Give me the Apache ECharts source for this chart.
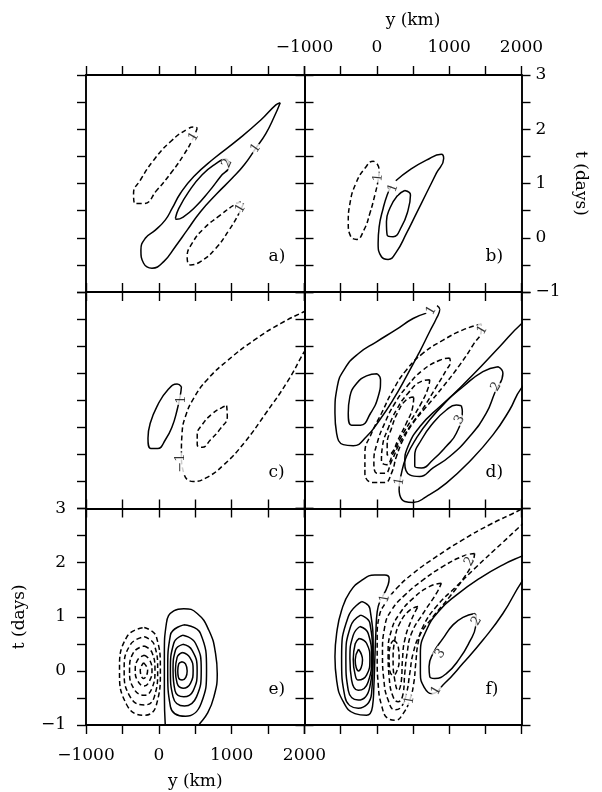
<!DOCTYPE html>
<html><head><meta charset="utf-8">
<script src="https://cdn.jsdelivr.net/npm/echarts@6/dist/echarts.min.js"></script>
<style>html,body{margin:0;padding:0;background:#fff}#c{width:602px;height:792px}</style>
</head><body><div id="c"></div>
<script>
// ---- tick labels ----
const Y_TICK_LABELS = [-1000, 0, 1000, 2000];
const T_TICK_LABELS = [-1, 0, 1, 2, 3];
const PANEL_NAMES = ['a)', 'b)', 'c)', 'd)', 'e)', 'f)'];

// ---- panel a : contours [y km, t days] ----
const a_p1 = [[1667,2.49],[1584,2.23],[1469,1.92],[1331,1.65],[1170,1.34],[1009,1.10],[802,0.82],[572,0.48],[389,0.14],[228,-0.16],[67,-0.44],[-94,-0.56],[-209,-0.47],[-246,-0.23],[-186,-0.01],[-48,0.14],[90,0.33],[182,0.54],[297,0.82],[480,1.13],[756,1.46],[1078,1.80],[1400,2.17],[1607,2.45],[1667,2.49]];
const a_p2 = [[228,0.36],[274,0.54],[411,0.85],[595,1.16],[779,1.36],[917,1.45],[963,1.32],[848,1.13],[687,0.85],[503,0.57],[343,0.39],[241,0.34],[228,0.36]];
const a_n1 = [[527,2.02],[458,1.80],[343,1.53],[182,1.22],[-25,0.88],[-209,0.63],[-324,0.63],[-347,0.82],[-255,1.06],[-71,1.43],[159,1.77],[389,2.00],[503,2.04],[527,2.02]];
const a_n2 = [[1161,0.63],[1101,0.45],[963,0.14],[779,-0.20],[572,-0.44],[435,-0.50],[389,-0.35],[458,-0.10],[618,0.17],[848,0.42],[1055,0.62],[1147,0.66],[1161,0.63]];
const a_lab = [[480,1.86,'1'],[940,1.37,'2'],[1331,1.65,'1'],[1124,0.54,'1']];

// ---- panel b ----
const b_n1 = [[5,1.36],[32,1.25],[18,1.06],[-27,0.79],[-96,0.45],[-179,0.14],[-280,-0.03],[-363,0.03],[-395,0.27],[-372,0.63],[-290,1.00],[-165,1.28],[-50,1.41],[5,1.36]];
const b_p1 = [[262,1.05],[455,1.25],[685,1.43],[892,1.54],[924,1.46],[823,1.19],[685,0.82],[547,0.45],[409,0.08],[271,-0.26],[156,-0.40],[64,-0.35],[18,-0.10],[32,0.20],[87,0.54],[143,0.79],[200,0.95]];
const b_p2 = [[386,0.87],[465,0.79],[432,0.51],[340,0.20],[225,0.02],[143,0.05],[133,0.30],[179,0.54],[281,0.77],[386,0.87]];
const b_lab = [[20,1.11,'1'],[228,0.92,'1']];

// ---- panel c ----
const c_p1 = [[310,1.25],[296,1.10],[251,0.82],[182,0.51],[90,0.27],[-16,0.11],[-108,0.11],[-149,0.30],[-117,0.58],[-16,0.91],[122,1.19],[251,1.30],[310,1.25]];
const c_n1 = [[2320,2.85],[1998,2.64],[1676,2.42],[1308,2.11],[940,1.73],[664,1.38],[480,1.04],[365,0.70],[319,0.39],[310,0.02],[343,-0.35],[471,-0.50],[641,-0.44],[894,-0.19],[1170,0.21],[1469,0.76],[1768,1.35],[1998,1.90],[2228,2.42]];
const c_n2 = [[931,0.90],[940,0.70],[848,0.48],[710,0.27],[596,0.13],[527,0.18],[527,0.36],[596,0.55],[733,0.75],[871,0.87],[931,0.90]];
const c_lab = [[319,1.01,'1'],[296,-0.16,'−1']];

// ---- panel d ----
const d_p1 = [[685,2.61],[501,2.51],[271,2.31],[-5,2.08],[-257,1.86],[-441,1.59],[-547,1.25],[-579,0.76],[-556,0.39],[-464,0.18],[-326,0.16],[-142,0.33],[41,0.64],[225,1.01],[409,1.44],[593,1.90],[731,2.27],[823,2.51],[869,2.68],[832,2.75]];
const d_p2 = [[5,1.49],[51,1.38],[19,1.07],[-87,0.76],[-225,0.54],[-349,0.54],[-395,0.76],[-372,1.07],[-280,1.31],[-142,1.45],[5,1.49]];
const d_p3 = [[2400,2.85],[1996,2.41],[1697,1.99],[1329,1.47],[1007,1.04],[731,0.64],[547,0.30],[409,-0.04],[340,-0.35],[308,-0.65],[317,-0.75],[386,-0.87],[501,-0.89],[685,-0.78],[961,-0.53],[1283,-0.13],[1605,0.36],[1835,0.82],[1996,1.22],[2300,1.65]];
const d_p4 = [[1674,1.62],[1743,1.50],[1628,1.13],[1513,0.76],[1283,0.33],[1007,-0.04],[777,-0.25],[593,-0.41],[455,-0.38],[386,-0.16],[432,0.15],[593,0.51],[869,0.88],[1191,1.25],[1467,1.53],[1674,1.62]];
const d_p5 = [[1168,0.90],[1182,0.79],[1099,0.39],[961,0.15],[777,-0.10],[616,-0.25],[524,-0.22],[524,-0.04],[616,0.27],[777,0.58],[961,0.82],[1099,0.91],[1168,0.90]];
const d_n1 = [[1444,2.41],[1191,2.30],[915,2.11],[639,1.87],[409,1.56],[225,1.19],[65,0.76],[-73,0.39],[-165,0.02],[-165,-0.35],[-50,-0.52],[110,-0.52],[202,-0.35],[271,-0.04],[363,0.27],[501,0.58],[685,0.88],[915,1.25],[1145,1.65],[1329,2.02],[1444,2.30],[1444,2.41]];
const d_n2 = [[1007,1.78],[869,1.74],[639,1.56],[432,1.28],[248,0.94],[110,0.58],[5,0.21],[-41,-0.13],[5,-0.35],[110,-0.35],[202,-0.13],[317,0.21],[455,0.51],[639,0.85],[823,1.25],[961,1.56],[1016,1.71],[1007,1.78]];
const d_n3 = [[731,1.38],[616,1.35],[432,1.13],[271,0.82],[156,0.48],[78,0.15],[64,-0.13],[133,-0.19],[225,0.02],[340,0.33],[478,0.64],[616,0.95],[708,1.22],[731,1.38]];
const d_n4 = [[510,1.06],[409,1.01],[294,0.79],[202,0.48],[143,0.18],[143,-0.01],[202,0.02],[294,0.27],[409,0.58],[492,0.85],[510,1.06]];
const d_lab = [[754,2.66,'1'],[1458,2.30,'1'],[1651,1.25,'2'],[1145,0.64,'3'],[317,-0.50,'1']];

// ---- panel e ----
const e_p1 = [[95,-1.15],[76,-0.42],[76,0.32],[104,0.88],[205,1.11],[343,1.15],[527,1.06],[687,0.75],[779,0.32],[802,-0.05],[756,-0.48],[664,-0.79],[549,-1.0],[481,-1.16]];
const e_p2 = [[342,0.85],[572,0.69],[655,0.01],[582,-0.60],[366,-0.84],[159,-0.66],[122,0.01],[159,0.66],[342,0.85]];
const e_p3 = [[333,0.66],[503,0.51],[582,0.01],[517,-0.48],[352,-0.65],[195,-0.48],[159,0.01],[205,0.51],[333,0.66]];
const e_p4 = [[329,0.49],[457,0.38],[526,0.01],[471,-0.37],[343,-0.48],[223,-0.37],[195,0.01],[228,0.38],[329,0.49]];
const e_p5 = [[324,0.34],[425,0.25],[471,0.01],[434,-0.23],[333,-0.32],[251,-0.23],[228,0.01],[251,0.25],[324,0.34]];
const e_p6 = [[319,0.17],[366,0.13],[389,0.0],[370,-0.12],[319,-0.17],[269,-0.12],[260,0.0],[274,0.13],[319,0.17]];
const e_n1 = [[-200,0.80],[-34,0.63],[21,0.01],[-34,-0.63],[-200,-0.82],[-439,-0.63],[-540,0.01],[-439,0.63],[-200,0.80]];
const e_n2 = [[-200,0.63],[-62,0.48],[-16,0.01],[-62,-0.48],[-200,-0.63],[-393,-0.48],[-476,0.01],[-393,0.48],[-200,0.63]];
const e_n3 = [[-200,0.46],[-94,0.34],[-53,0.01],[-94,-0.32],[-200,-0.45],[-347,-0.32],[-402,0.01],[-347,0.34],[-200,0.46]];
const e_n4 = [[-200,0.29],[-126,0.20],[-94,0.01],[-126,-0.18],[-200,-0.28],[-292,-0.18],[-324,0.01],[-292,0.20],[-200,0.29]];
const e_n5 = [[-209,0.15],[-154,0.01],[-209,-0.14],[-255,0.01],[-209,0.15]];
const e_lab = [];

// ---- panel f ----
const f_p1 = [[78,1.37],[156,1.59],[170,1.71],[110,1.77],[-28,1.77],[-211,1.67],[-372,1.46],[-487,1.12],[-556,0.69],[-579,0.26],[-556,-0.17],[-464,-0.57],[-303,-0.79],[-142,-0.82],[-60,-0.66],[-41,-0.29],[-28,0.20],[-14,0.69],[5,1.09],[41,1.28]];
const f_p2 = [[-211,1.28],[-96,1.15],[-50,0.32],[-73,-0.42],[-257,-0.69],[-441,-0.48],[-487,0.23],[-395,1.00],[-211,1.28]];
const f_p3 = [[-225,1.03],[-96,0.88],[-60,0.26],[-96,-0.29],[-257,-0.54],[-395,-0.36],[-428,0.23],[-363,0.82],[-225,1.03]];
const f_p4 = [[-234,0.82],[-119,0.69],[-73,0.23],[-119,-0.20],[-257,-0.36],[-349,-0.17],[-372,0.23],[-326,0.66],[-234,0.82]];
const f_p5 = [[-244,0.60],[-142,0.51],[-96,0.21],[-142,-0.08],[-257,-0.17],[-303,-0.05],[-326,0.21],[-299,0.50],[-244,0.60]];
const f_p6 = [[-253,0.40],[-198,0.20],[-253,0.00],[-299,0.20],[-253,0.40]];
const f_p7 = [[2294,2.29],[2005,2.12],[1743,1.96],[1421,1.71],[1099,1.40],[869,1.12],[685,0.75],[602,0.32],[602,-0.05],[662,-0.32],[754,-0.42],[938,-0.23],[1191,0.14],[1467,0.57],[1743,1.06],[2005,1.65],[2294,2.17]];
const f_p8 = [[1352,1.06],[1191,0.99],[1053,0.85],[915,0.60],[777,0.32],[722,0.08],[731,-0.10],[800,-0.14],[961,-0.05],[1145,0.23],[1283,0.54],[1366,0.82],[1375,1.00],[1352,1.06]];
const f_n1 = [[2478,3.34],[1973,2.97],[1559,2.70],[1186,2.42],[823,2.11],[501,1.80],[271,1.52],[133,1.28],[32,1.00],[5,0.63],[5,0.20],[18,-0.23],[64,-0.63],[156,-0.88],[262,-0.91],[363,-0.79],[455,-0.54],[510,-0.23],[538,0.14],[570,0.51],[639,0.82],[823,1.19],[1099,1.56],[1375,1.92],[1738,2.37],[2005,2.70],[2294,3.03]];
const f_n2 = [[1352,2.17],[1191,2.12],[915,1.93],[639,1.68],[386,1.40],[202,1.12],[110,0.82],[78,0.32],[97,-0.17],[156,-0.54],[248,-0.72],[340,-0.66],[409,-0.42],[455,-0.05],[501,0.32],[593,0.66],[777,1.00],[1007,1.37],[1214,1.74],[1320,1.99],[1352,2.17]];
const f_n3 = [[892,1.62],[731,1.56],[501,1.34],[317,1.06],[202,0.75],[156,0.32],[170,-0.11],[225,-0.48],[294,-0.57],[363,-0.42],[386,-0.05],[418,0.32],[478,0.69],[639,1.06],[823,1.43],[892,1.62]];
const f_n4 = [[570,1.19],[455,1.12],[317,0.88],[248,0.57],[225,0.20],[248,-0.17],[294,-0.36],[340,-0.17],[354,0.20],[386,0.57],[478,0.94],[570,1.19]];
const f_n5 = [[235,0.57],[294,0.46],[308,0.20],[271,-0.02],[225,-0.08],[179,0.01],[170,0.26],[189,0.48],[235,0.57]];
const f_lab = [[110,1.34,'1'],[1283,2.02,'2'],[1380,0.92,'2'],[878,0.32,'3'],[823,-0.36,'1'],[455,-0.54,'1']];

// ---- assemble ----
const PANELS = [
  {pos:[a_p1,a_p2], neg:[a_n1,a_n2], lab:a_lab, rot:[60,65,55,60]},
  {pos:[b_p1,b_p2], neg:[b_n1], lab:b_lab, rot:[85,70]},
  {pos:[c_p1], neg:[c_n1,c_n2], lab:c_lab, rot:[90,90]},
  {pos:[d_p1,d_p2,d_p3,d_p4,d_p5], neg:[d_n1,d_n2,d_n3,d_n4], lab:d_lab, rot:[60,60,60,60,80]},
  {pos:[e_p1,e_p2,e_p3,e_p4,e_p5,e_p6], neg:[e_n1,e_n2,e_n3,e_n4,e_n5], lab:e_lab, rot:[]},
  {pos:[f_p1,f_p2,f_p3,f_p4,f_p5,f_p6,f_p7,f_p8], neg:[f_n1,f_n2,f_n3,f_n4,f_n5], lab:f_lab, rot:[80,60,60,55,60,80]}
];

const FONT = 'DejaVu Serif';
const fmt = v => v < 0 ? '\u2212' + Math.abs(v) : String(v);
const COLX = [86, 304.5], COLW = [218.5, 217];
const ROWY = [75, 292, 508.5], ROWH = [217, 216.5, 216.5];

const grids = [], xAxes = [], yAxes = [], series = [], graphics = [];
PANELS.forEach((p, g) => {
  const col = g % 2, row = Math.floor(g / 2);
  grids.push({left: COLX[col], top: ROWY[row], width: COLW[col], height: ROWH[row], containLabel: false, outerBoundsMode: 'none'});
  ['bottom', 'top'].forEach(pos => {
    const lab = (g === 4 && pos === 'bottom') || (g === 1 && pos === 'top');
    xAxes.push({type: 'value', gridIndex: g, position: pos, min: -1000, max: 2000, interval: 500,
      axisLine: {show: true, onZero: false, lineStyle: {color: '#000', width: 1.9}},
      axisTick: {show: true, inside: false, length: 9, lineStyle: {color: '#000', width: 1.4}},
      splitLine: {show: false},
      axisLabel: {show: lab, interval: 0, showMinLabel: true, showMaxLabel: true, hideOverlap: false, margin: pos === 'bottom' ? 22 : 19,
        formatter: v => Y_TICK_LABELS.includes(v) ? fmt(v) : '', color: '#000', fontFamily: FONT, fontSize: 17},
      name: lab ? 'y (km)' : '', nameLocation: 'middle', nameGap: pos === 'bottom' ? 48 : 46,
      nameTextStyle: {color: '#000', fontFamily: FONT, fontSize: 17}
    });
  });
  ['left', 'right'].forEach(pos => {
    const lab = (g === 4 && pos === 'left') || (g === 1 && pos === 'right');
    yAxes.push({type: 'value', gridIndex: g, position: pos, min: -1, max: 3, interval: 0.5,
      axisLine: {show: true, onZero: false, lineStyle: {color: '#000', width: 1.9}},
      axisTick: {show: true, inside: false, length: 9, lineStyle: {color: '#000', width: 1.4}},
      splitLine: {show: false},
      axisLabel: {show: lab, interval: 0, showMinLabel: true, showMaxLabel: true, hideOverlap: false, margin: pos === 'left' ? 20 : 14,
        formatter: v => T_TICK_LABELS.includes(v) ? fmt(v) : '', color: '#000', fontFamily: FONT, fontSize: 17},
      name: lab ? 't (days)' : '', nameLocation: 'middle', nameGap: pos === 'left' ? 58 : 50,
      nameRotate: pos === 'left' ? 90 : -90,
      nameTextStyle: {color: '#000', fontFamily: FONT, fontSize: 17}
    });
  });
  const mk = (data, dashed) => ({type: 'line', xAxisIndex: 2 * g, yAxisIndex: 2 * g, data: data, smooth: 0.5,
    showSymbol: false, symbol: 'none', silent: true, animation: false, clip: true,
    lineStyle: {color: '#000', width: 1.5, type: dashed ? [5, 3] : 'solid'}});
  p.pos.forEach(d => series.push(mk(d, false)));
  p.neg.forEach(d => series.push(mk(d, true)));
  if (p.lab.length) {
    series.push({type: 'scatter', xAxisIndex: 2 * g, yAxisIndex: 2 * g, symbolSize: 1, silent: true, animation: false, z: 5,
      itemStyle: {color: 'rgba(0,0,0,0)'},
      data: p.lab.map((l, i) => ({value: [l[0], l[1]], label: {formatter: l[2], rotate: p.rot[i] || 0}})),
      label: {show: true, position: 'inside', color: '#000', fontFamily: FONT, fontSize: 13, backgroundColor: '#fff', padding: [0, 1]}
    });
  }
  graphics.push({type: 'text', left: COLX[col] + COLW[col] - 36, top: ROWY[row] + ROWH[row] - 44,
    style: {text: PANEL_NAMES[g], font: '17px "DejaVu Serif"', fill: '#000'}});
});

const chart = echarts.init(document.getElementById('c'), null, {renderer: 'canvas'});
chart.setOption({animation: false, backgroundColor: '#fff', grid: grids, xAxis: xAxes, yAxis: yAxes, series: series, graphic: graphics});
</script></body></html>
